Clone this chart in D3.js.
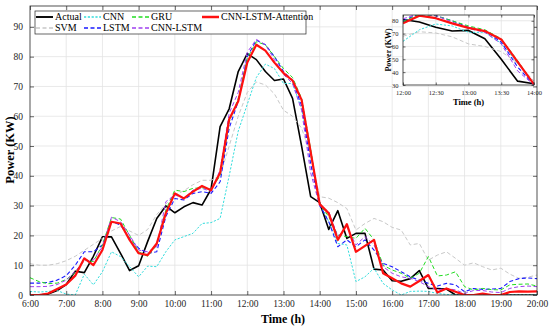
<!DOCTYPE html>
<html><head><meta charset="utf-8">
<script src="https://cdn.jsdelivr.net/npm/d3@7"></script>
<style>
html,body{margin:0;padding:0;background:#fff;}
svg{display:block;font-family:"Liberation Serif","Times New Roman",serif;}
</style></head>
<body><svg id="c" width="550" height="328"></svg>
<script>
// hours from 6:00 to 20:00 every 15 minutes
const hours = d3.range(6, 20.001, 0.25);
const xTicks = [6,7,8,9,10,11,12,13,14,15,16,17,18,19,20];
const yTicks = [0,10,20,30,40,50,60,70,80,90];
const insetXTicks = [12,12.5,13,13.5,14];
const insetYTicks = [30,40,50,60,70,80];

const actual = [0,0,0.3,1.5,3.5,8,7.5,13,19.5,19.5,14,8.2,9.8,18,25.7,29.9,27.6,29.6,31,30.2,35.5,56.5,62.5,75,81,79,75,72,72.5,66,50,33,31,22,28.3,19,20.7,20.7,8.7,8.4,4.8,4.6,5.5,8.2,2.2,2.2,2,0,0,0,0,0,0,0,0,0,0];
const svm = [10.5,10,10,10.5,11.5,13,15,17,19,21.5,23,21.5,20,22,27,30.5,33.5,35,37,38.5,38.5,40,50,60,68,71.5,70.5,67.5,62,60,56,47,33,32.5,31,29,21.8,24,25.7,24.6,22.7,21.8,16.8,17.3,11.7,13.4,14.5,12.3,10,10.8,9.5,8.4,9,7,5.6,6,6.7];
const cnn = [1.2,1,1.2,1.5,0.3,0,7,3.4,7.8,14.5,12.9,9.5,6.1,9.7,9.5,14.5,18.5,19.6,20.7,24,24.3,25.7,40,55,64,73,77.5,76,71,71,62.5,47,31,24.6,17.3,16.8,4.5,6.1,9,3.9,1.7,0,1.2,1.3,1.2,0.5,0.2,0,0,0,0,0,0,0,0,0,0];
const lstm = [4,4,4.2,5,6.5,10,14.5,14.5,16.8,24.6,23.5,19,15.7,14,14.5,26.3,32.4,31.9,34.1,34.7,34.1,38,56,65,80,85.5,84,80,75,72,63.5,44,30,24.6,16.2,18.5,16.2,18.5,15.1,10.6,9.5,7.8,6.1,5,3.9,3,3.9,3.4,1.1,2.2,1.9,2,2.2,4.5,5.5,5.7,5.5];
const gru = [5.8,4.5,3.8,4,5.2,7.5,12,11.2,16.8,26,25.5,20,14.5,13,16.8,28.5,35.2,34.7,35.8,36,35.5,40,58,66,79.5,85,84,80,76,73,66,49,30.5,26.3,20.1,19.6,19,22.4,18.5,10,8.4,7.3,5.6,7.3,12.9,6.4,6.7,7.8,2.8,1.7,2.2,1.8,1.7,3.4,3.6,3.7,3];
const cnnLstm = [2.8,2.8,2.9,3.5,5,8,11.5,11.7,16.2,26.1,24.6,20.1,15.1,14.5,16.2,31.3,33.6,32.4,35.2,35.8,34.7,42,61,68,81.5,85.8,84,79,74,71,62,41,30,28,19.6,22.9,16.8,19.6,16.8,9.5,7.3,6.1,5.6,4.5,2.8,1.7,2.2,1.7,0.5,1.5,1.5,1,0.8,2.2,2.8,3,2.8];
const attention = [0,0,0.5,2,3.5,6.5,12.3,10,15.1,24.6,24,18.5,14,13.4,17.3,27.4,34.1,32.4,34.7,36.6,35.2,41,59,65,78,84,82,78,74.5,72,65.5,48,30.5,27.4,18.5,23.8,14.5,16.5,18.5,7.3,5.6,3.9,2.8,4.7,6.7,0.8,2.2,1.1,0,0,0.5,0,0,1,1.2,1.1,1.2];

const seriesNames = ["Actual","SVM","CNN","LSTM","GRU","CNN-LSTM","CNN-LSTM-Attention"];
const seriesValues = [actual, svm, cnn, lstm, gru, cnnLstm, attention];
const styles = [
  {color:"#000000", w:1.6, dash:null},
  {color:"#c8c8c8", w:1, dash:"4,2.5"},
  {color:"#33dddd", w:1, dash:"2.2,1.6"},
  {color:"#1a1aff", w:1.1, dash:"4,2.5"},
  {color:"#22dd22", w:1, dash:"4,2.5"},
  {color:"#a040f0", w:1, dash:"4,2.5"},
  {color:"#ff1010", w:2.2, dash:null}
];

const fmt = h => { const hh = Math.floor(h), mm = Math.round((h-hh)*60); return hh + ":" + (mm<10?"0":"") + mm; };

const svg = d3.select("#c");
const axisColor = "#262626";
const gridColor = "#e3e3e3";

function drawAxes(g, x, y, xt, yt){
  const [x0,x1] = x.range(), [y0,y1] = y.range();
  g.append("rect").attr("x",x0).attr("y",y1).attr("width",x1-x0).attr("height",y0-y1).attr("fill","#fff");
  g.append("g").selectAll("line").data(xt.filter(d=>x(d)>x0+0.5 && x(d)<x1-0.5)).join("line")
    .attr("x1",d=>x(d)).attr("x2",d=>x(d)).attr("y1",y0).attr("y2",y1).attr("stroke",gridColor).attr("stroke-width",0.8);
  g.append("g").selectAll("line").data(yt.filter(d=>y(d)<y0-0.5 && y(d)>y1+0.5)).join("line")
    .attr("y1",d=>y(d)).attr("y2",d=>y(d)).attr("x1",x0).attr("x2",x1).attr("stroke",gridColor).attr("stroke-width",0.8);
}
function drawFrame(g, x, y, xt, yt, opts){
  const [x0,x1] = x.range(), [y0,y1] = y.range();
  const tl = opts.tick;
  const xb = d3.axisBottom(x).tickValues(xt).tickFormat(fmt).tickSizeInner(-tl).tickSizeOuter(0).tickPadding(tl+opts.padX);
  const gx = g.append("g").attr("transform",`translate(0,${y0})`).call(xb);
  const xtp = d3.axisTop(x).tickValues(xt).tickFormat("").tickSizeInner(-tl).tickSizeOuter(0);
  const gxt = g.append("g").attr("transform",`translate(0,${y1})`).call(xtp);
  const yl = d3.axisLeft(y).tickValues(yt).tickSizeInner(-tl).tickSizeOuter(0).tickPadding(tl+opts.padY);
  const gy = g.append("g").attr("transform",`translate(${x0},0)`).call(yl);
  const yr = d3.axisRight(y).tickValues(yt).tickFormat("").tickSizeInner(-tl).tickSizeOuter(0);
  const gyr = g.append("g").attr("transform",`translate(${x1},0)`).call(yr);
  [gx,gxt,gy,gyr].forEach(a=>{
    a.select(".domain").remove();
    a.selectAll("line").attr("stroke",axisColor).attr("stroke-width",0.7);
    a.selectAll("text").attr("fill",axisColor).attr("font-family","'Liberation Serif',serif").attr("font-size",opts.font);
  });
  g.append("rect").attr("x",x0).attr("y",y1).attr("width",x1-x0).attr("height",y0-y1)
    .attr("fill","none").attr("stroke",axisColor).attr("stroke-width",0.8);
}
function drawLines(g, x, y, idxFilter, clipId){
  seriesValues.forEach((vals,i)=>{
    const pts = hours.map((h,k)=>[h, vals[k]]).filter(p=>idxFilter(p[0]));
    const line = d3.line().x(d=>x(d[0])).y(d=>y(d[1]));
    g.append("path").datum(pts).attr("d",line).attr("fill","none")
      .attr("stroke",styles[i].color).attr("stroke-width",styles[i].w)
      .attr("stroke-dasharray",styles[i].dash).attr("stroke-linejoin","round")
      .attr("clip-path",`url(#${clipId})`);
  });
}

// main axes
const x = d3.scaleLinear().domain([6,20]).range([30,537]);
const y = d3.scaleLinear().domain([0,97]).range([295,6]);
const defs = svg.append("defs");
defs.append("clipPath").attr("id","clipMain").append("rect").attr("x",30).attr("y",6).attr("width",507).attr("height",289);
const main = svg.append("g");
drawAxes(main, x, y, xTicks, yTicks);
drawLines(main, x, y, h=>true, "clipMain");
drawFrame(main, x, y, xTicks, yTicks, {tick:4, font:9.5, padX:1, padY:3});
main.append("text").attr("x",283).attr("y",323).attr("text-anchor","middle")
  .attr("font-weight","bold").attr("font-size",12).attr("fill","#000").text("Time (h)");
main.append("text").attr("transform","translate(14,150) rotate(-90)").attr("text-anchor","middle")
  .attr("font-weight","bold").attr("font-size",12.5).attr("fill","#000").text("Power (KW)");

// legend
const lg = svg.append("g");
lg.append("rect").attr("x",35).attr("y",11).attr("width",271).attr("height",23).attr("fill","#fff").attr("stroke","#262626").attr("stroke-width",0.7);
const legendPos = [[36,17],[36,28],[84,17],[84,28],[132,17],[132,28],[202,17]];
seriesNames.forEach((n,i)=>{
  const [lx,ly] = legendPos[i];
  lg.append("line").attr("x1",lx).attr("x2",lx+17).attr("y1",ly).attr("y2",ly)
    .attr("stroke",styles[i].color).attr("stroke-width",styles[i].w+0.3).attr("stroke-dasharray",styles[i].dash);
  lg.append("text").attr("x",lx+19).attr("y",ly+3.3).attr("font-size",10).attr("fill","#000").text(n);
});

// inset
const xi = d3.scaleLinear().domain([12,14]).range([403,534]);
const yi = d3.scaleLinear().domain([30,84.5]).range([85,15]);
defs.append("clipPath").attr("id","clipInset").append("rect").attr("x",403).attr("y",15).attr("width",131).attr("height",70);
const ins = svg.append("g");
drawAxes(ins, xi, yi, insetXTicks, insetYTicks);
drawLines(ins, xi, yi, h=>h>=11.99 && h<=14.01, "clipInset");
drawFrame(ins, xi, yi, insetXTicks, insetYTicks, {tick:2.5, font:6.5, padX:3.2, padY:2});
ins.append("text").attr("x",468.5).attr("y",105).attr("text-anchor","middle")
  .attr("font-weight","bold").attr("font-size",8.5).attr("fill","#000").text("Time (h)");
ins.append("text").attr("transform","translate(391,50) rotate(-90)").attr("text-anchor","middle")
  .attr("font-weight","bold").attr("font-size",8).attr("fill","#000").text("Power (KW)");
</script></body></html>
